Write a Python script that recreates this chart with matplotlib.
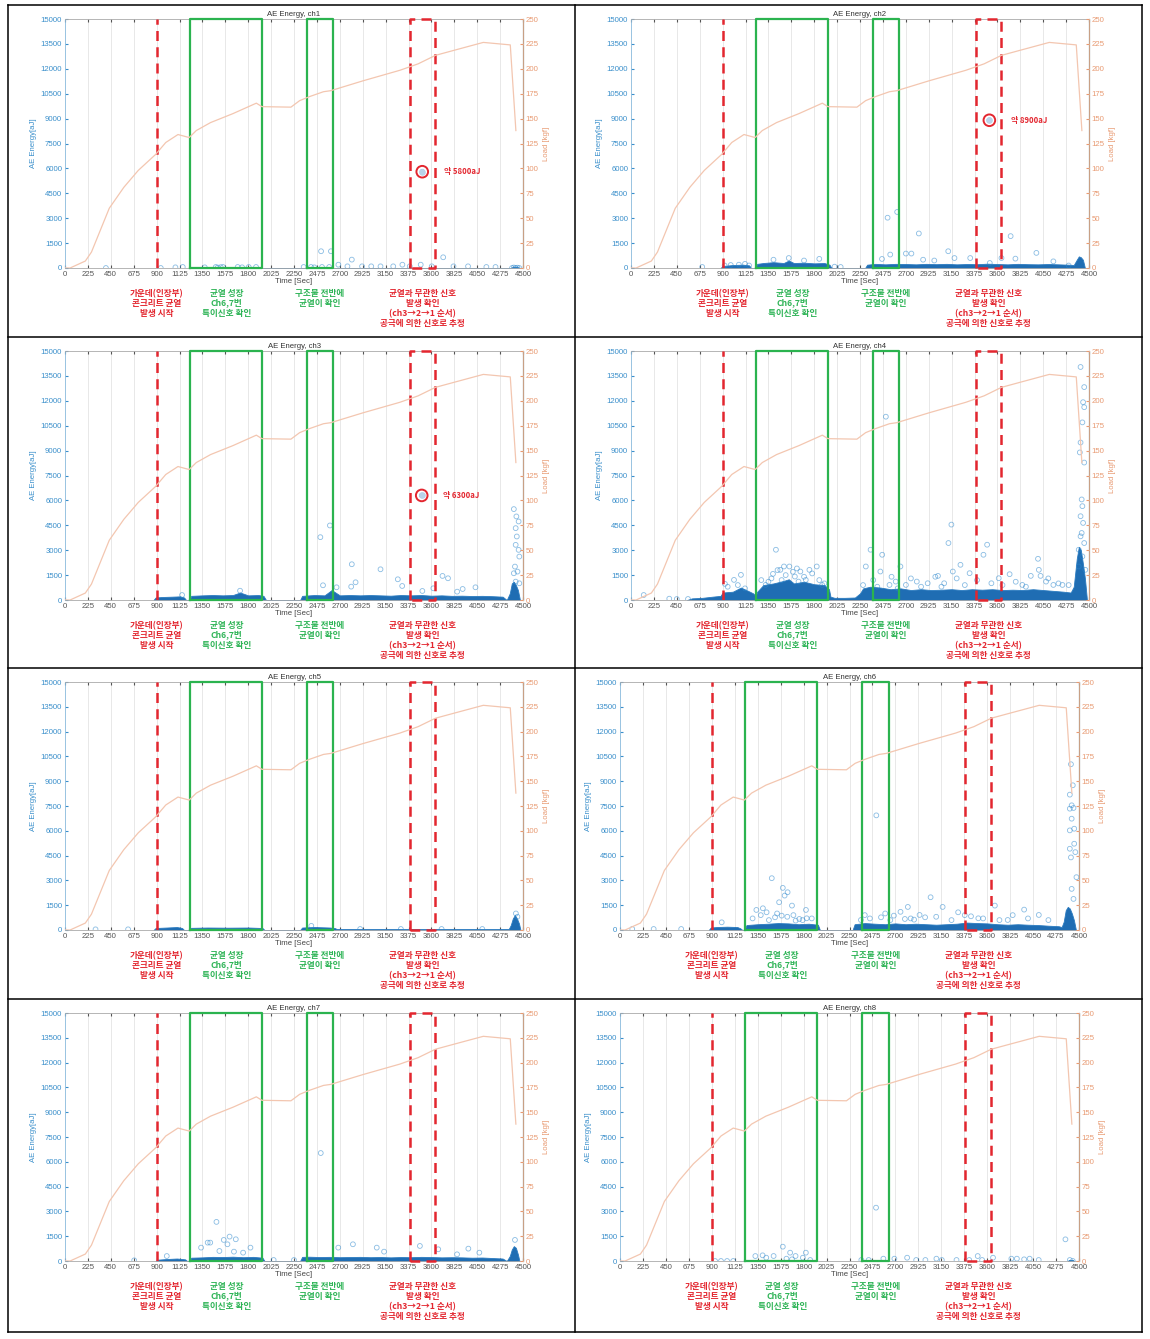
import numpy as np
import matplotlib.pyplot as plt
from matplotlib.lines import Line2D

plt.rcParams['font.family'] = ['Liberation Sans', 'Noto Sans CJK KR', 'DejaVu Sans']

W, H = 1150, 1339

# load history (same test for all channels)
load_t = [0, 50, 200, 260, 435, 578, 720, 890, 990, 1110, 1220, 1290, 1430, 1650, 1880, 1935, 2220, 2305, 2400, 2540, 2610, 2930, 3290, 3470, 3640, 3820, 4110, 4375, 4430]
load_v = [0, 0, 7, 16, 60, 81, 98, 114, 126, 134, 131, 138, 146, 155, 165.5, 162, 161.5, 168, 172, 177, 178, 188, 198.5, 205, 213.5, 218.5, 226.5, 224, 138]

# event marks
crack_t = 900
green_box = [(1230, 1935), (2375, 2635)]
red_box = (3385, 3635)

# AE hits (time [s], energy [aJ])
ch1_t = [402, 941, 1085, 1157, 1373, 1481, 1500, 1530, 1553, 1697, 1740, 1805, 1877, 2345, 2417, 2450, 2516, 2525, 2596, 2613, 2686, 2775, 2818, 2919, 3009, 3100, 3225, 3315, 3387, 3495, 3510, 3603, 3716, 3817, 3960, 4140, 4230, 4392, 4410, 4428, 4445, 4464]
ch1_e = [0, 0, 40, 60, 40, 60, 30, 50, 60, 60, 40, 60, 60, 60, 60, 40, 1010, 60, 60, 1010, 200, 100, 505, 100, 100, 100, 100, 200, 100, 200, 5800, 100, 646, 100, 100, 60, 60, 0, 30, 0, 20, 0]
ch1_band_t = [1460, 1480, 1520, 1560, 1580, 1680, 1700, 1760, 1810, 1830, 2370, 2390, 2500, 2620, 2640, 4380, 4400, 4440, 4470]
ch1_band_e = [0, 50, 70, 50, 0, 0, 50, 40, 50, 0, 0, 50, 40, 60, 0, 0, 70, 70, 0]

ch2_t = [700, 920, 980, 1060, 1120, 1160, 1400, 1550, 1700, 1850, 2000, 2060, 2466, 2521, 2547, 2615, 2701, 2755, 2828, 2870, 2980, 3117, 3178, 3333, 3521, 3525, 3640, 3730, 3777, 3983, 4150, 4300]
ch2_e = [60, 150, 180, 200, 250, 150, 500, 600, 450, 550, 80, 60, 545, 3030, 810, 3375, 870, 870, 2080, 500, 450, 1010, 600, 600, 8900, 300, 600, 1920, 565, 910, 400, 150]
ch2_band_t = [880, 900, 1000, 1100, 1160, 1180, 1220, 1240, 1300, 1400, 1500, 1550, 1600, 1700, 1800, 1900, 1950, 1970, 2300, 2320, 2400, 2500, 2600, 2700, 2800, 2900, 3000, 3100, 3200, 3300, 3400, 3500, 3600, 3700, 3800, 3900, 4000, 4100, 4200, 4300, 4350, 4380, 4400, 4420, 4440, 4460]
ch2_band_e = [0, 120, 180, 200, 160, 0, 0, 250, 300, 350, 300, 450, 300, 320, 280, 300, 200, 0, 0, 200, 250, 220, 250, 240, 220, 250, 230, 250, 220, 240, 230, 260, 240, 220, 250, 230, 220, 240, 220, 200, 180, 500, 700, 650, 500, 0]

ch3_t = [1150, 1720, 2509, 2535, 2603, 2668, 2812, 2818, 2855, 3100, 3270, 3313, 3505, 3511, 3619, 3709, 3763, 3853, 3907, 4033, 4410, 4435, 4457, 4428, 4439, 4428, 4457, 4464, 4421, 4446, 4410, 4428, 4464]
ch3_e = [300, 560, 3785, 886, 4490, 765, 805, 2154, 1067, 1850, 1248, 845, 6300, 544, 705, 1450, 1309, 503, 664, 765, 5476, 5034, 4731, 4329, 3826, 3322, 3020, 2617, 2013, 1711, 1611, 1107, 1007]
ch3_band_t = [870, 890, 950, 1050, 1130, 1170, 1190, 1225, 1240, 1350, 1450, 1550, 1650, 1720, 1800, 1900, 1950, 1975, 2310, 2330, 2450, 2550, 2620, 2700, 2800, 2900, 3000, 3100, 3200, 3300, 3400, 3500, 3600, 3700, 3800, 3900, 4000, 4100, 4200, 4300, 4340, 4370, 4390, 4410, 4430, 4450, 4470]
ch3_band_e = [0, 150, 180, 200, 220, 150, 0, 0, 250, 280, 300, 280, 300, 450, 280, 300, 250, 0, 0, 250, 300, 280, 600, 280, 300, 280, 300, 280, 260, 300, 280, 300, 260, 280, 250, 260, 240, 250, 230, 200, 0, 400, 1000, 1100, 900, 600, 0]

ch4_t = [125, 376, 450, 560, 923, 950, 1012, 1050, 1080, 1120, 1280, 1323, 1350, 1380, 1395, 1424, 1440, 1467, 1480, 1503, 1520, 1556, 1590, 1610, 1630, 1646, 1664, 1700, 1717, 1753, 1780, 1825, 1850, 1878, 1900,
         2280, 2307, 2354, 2380, 2420, 2450, 2468, 2504, 2540, 2560, 2601, 2620, 2647, 2701, 2750, 2808, 2850, 2915, 2990, 3016, 3050, 3077, 3119, 3148, 3162, 3200, 3237, 3280, 3327, 3400, 3463, 3499, 3541, 3613, 3650, 3720, 3780, 3845, 3880, 3928, 3999, 4007, 4024, 4078, 4100, 4150, 4200, 4239, 4300,
         4417, 4453, 4442, 4453, 4435, 4417, 4453, 4410, 4428, 4435, 4417, 4442, 4428, 4417, 4453, 4399, 4435, 4464, 4399]
ch4_e = [300, 80, 60, 60, 970, 800, 1211, 900, 1514, 700, 1200, 908, 1100, 1300, 1574, 3028, 1800, 1817, 1200, 2019, 1500, 2019, 1700, 1413, 1900, 1110, 1716, 1400, 1211, 1817, 1600, 2019, 1200, 908, 1000,
         900, 2019, 3028, 1200, 800, 1716, 2725, 11043, 908, 1400, 1110, 700, 2019, 908, 1300, 1110, 800, 1009, 1400, 1453, 800, 1009, 3432, 4542, 1716, 1300, 2120, 900, 1615, 1200, 2725, 3331, 1009, 1312, 900, 1554, 1100, 908, 800, 1453, 2482, 1817, 1453, 1110, 1300, 908, 1000, 908, 900,
         14037, 12826, 11917, 11615, 10700, 9488, 8280, 8890, 6057, 5653, 5047, 4643, 4037, 3835, 3432, 3028, 2624, 1817, 2019]
ch4_band_t = [550, 600, 700, 800, 880, 900, 1000, 1080, 1150, 1200, 1225, 1240, 1300, 1400, 1500, 1550, 1600, 1700, 1800, 1900, 1945, 1960, 2000, 2100, 2200, 2250, 2280, 2350, 2450, 2550, 2650, 2750, 2850, 2950, 3050, 3150, 3250, 3350, 3450, 3550, 3650, 3750, 3850, 3950, 4050, 4150, 4250, 4320, 4350, 4380, 4400, 4420, 4440, 4460, 4480]
ch4_band_e = [0, 100, 130, 200, 250, 450, 500, 750, 550, 400, 250, 500, 900, 1000, 1150, 1250, 1000, 1100, 950, 900, 650, 200, 130, 130, 150, 400, 700, 800, 750, 650, 700, 600, 650, 600, 620, 650, 600, 650, 620, 650, 600, 620, 600, 650, 600, 550, 500, 450, 800, 2500, 3200, 3000, 2200, 1300, 0]

ch5_t = [300, 620, 2420, 2900, 3300, 3700, 4100, 4430, 4445]
ch5_e = [40, 40, 250, 60, 60, 60, 60, 1000, 800]
ch5_band_t = [870, 890, 1000, 1100, 1150, 1170, 1220, 1240, 1400, 1600, 1800, 1940, 1960, 2310, 2330, 2450, 2600, 2650, 2670, 4360, 4380, 4400, 4420, 4440, 4460, 4475]
ch5_band_e = [0, 120, 150, 180, 120, 0, 0, 130, 150, 140, 150, 120, 0, 0, 150, 180, 150, 120, 60, 60, 300, 700, 900, 700, 400, 0]

ch6_t = [120, 330, 600, 997, 1300, 1337, 1380, 1401, 1437, 1460, 1488, 1520, 1540, 1560, 1585, 1596, 1614, 1640, 1643, 1686, 1700, 1722, 1758, 1790, 1823, 1830, 1880,
         2362, 2400, 2450, 2513, 2559, 2600, 2650, 2685, 2750, 2793, 2822, 2850, 2883, 2937, 2991, 3045, 3100, 3163, 3250, 3315, 3380, 3441, 3513, 3560, 3675, 3720, 3801, 3850, 3962, 4000, 4106, 4200,
         4421, 4439, 4410, 4428, 4410, 4446, 4428, 4453, 4410, 4453, 4410, 4464, 4421, 4475, 4428, 4446]
ch6_e = [60, 60, 60, 465, 700, 1213, 900, 1314, 1071, 600, 3134, 768, 1000, 1678, 869, 2547, 2082, 800, 2284, 1476, 900, 566, 667, 600, 1213, 708, 700,
         606, 900, 700, 6934, 768, 1000, 600, 869, 1100, 667, 1395, 700, 627, 910, 768, 1981, 800, 1395, 600, 1071, 900, 829, 708, 700, 1476, 600, 606, 900, 1233, 700, 910, 600,
         10026, 8753, 8187, 7541, 7339, 7380, 6733, 6127, 6026, 5218, 4915, 4710, 4390, 3194, 2487, 1880]
ch6_band_t = [870, 890, 950, 1050, 1150, 1180, 1200, 1220, 1240, 1350, 1450, 1550, 1650, 1750, 1850, 1940, 1960, 2280, 2300, 2400, 2500, 2600, 2700, 2800, 2900, 3000, 3100, 3200, 3300, 3400, 3500, 3600, 3700, 3800, 3900, 4000, 4100, 4200, 4300, 4330, 4350, 4370, 4390, 4410, 4430, 4450, 4470]
ch6_band_e = [0, 150, 180, 200, 180, 100, 0, 0, 300, 350, 380, 420, 400, 350, 380, 320, 0, 0, 350, 420, 380, 350, 400, 350, 380, 350, 320, 350, 380, 450, 420, 400, 350, 320, 350, 320, 300, 260, 230, 180, 500, 1200, 1400, 1300, 1000, 600, 0]

ch7_t = [680, 1000, 1337, 1402, 1427, 1488, 1517, 1560, 1596, 1617, 1660, 1678, 1750, 1822, 2050, 2250,
         2513, 2685, 2829, 3063, 3135, 3487, 3667, 3852, 3963, 4071, 4421]
ch7_e = [40, 300, 809, 1112, 1112, 2365, 606, 1274, 1011, 1476, 566, 1314, 505, 809, 60, 60,
         6530, 809, 1011, 809, 566, 910, 708, 404, 748, 505, 1274]
ch7_band_t = [890, 910, 1000, 1100, 1180, 1200, 1225, 1240, 1350, 1450, 1550, 1650, 1750, 1850, 1940, 1960, 2310, 2330, 2400, 2500, 2600, 2700, 2800, 2900, 3000, 3100, 3200, 3300, 3400, 3500, 3600, 3700, 3800, 3900, 4000, 4100, 4200, 4300, 4340, 4370, 4390, 4410, 4430, 4450, 4465]
ch7_band_e = [0, 80, 120, 150, 100, 0, 0, 200, 220, 250, 240, 260, 230, 250, 200, 0, 0, 250, 260, 240, 250, 230, 240, 250, 230, 240, 220, 240, 230, 250, 240, 220, 230, 220, 200, 210, 180, 150, 0, 300, 700, 900, 800, 400, 0]

ch8_t = [932, 990, 1050, 1110, 1327, 1398, 1434, 1506, 1596, 1632, 1668, 1686, 1721, 1793, 1822, 1865,
         2366, 2438, 2510, 2582, 2690, 2815, 2904, 2994, 3102, 3155, 3299, 3424, 3507, 3550, 3657, 3837, 3891, 3962, 4016, 4105, 4367, 4410, 4439]
ch8_e = [0, 0, 0, 0, 300, 343, 200, 302, 867, 141, 504, 100, 302, 200, 504, 60,
         60, 60, 3226, 141, 141, 200, 60, 60, 141, 60, 60, 60, 300, 60, 200, 141, 141, 100, 141, 60, 1310, 60, 0]
ch8_band_t = [4390, 4400, 4440, 4450]
ch8_band_e = [0, 60, 60, 0]

callouts = {1: (3510, 5800, '약 5800aJ'), 2: (3521, 8900, '약 8900aJ'), 3: (3505, 6300, '약 6300aJ')}

ann = [(900, '가운데(인장부)\n콘크리트 균열\n발생 시작', '#e3262f'),
       (1590, '균열 성장\nCh6,7번\n특이신호 확인', '#2fb457'),
       (2505, '구조물 전반에\n균열이 확인', '#2fb457'),
       (3515, '균열과 무관한 신호\n발생 확인\n(ch3→2→1 순서)\n공극에 의한 신호로 추정', '#e3262f')]

panels = [
    (1, ch1_t, ch1_e, ch1_band_t, ch1_band_e, (65, 19, 523, 268)),
    (2, ch2_t, ch2_e, ch2_band_t, ch2_band_e, (631, 19, 1089, 268)),
    (3, ch3_t, ch3_e, ch3_band_t, ch3_band_e, (65, 351, 523, 600)),
    (4, ch4_t, ch4_e, ch4_band_t, ch4_band_e, (631, 351, 1089, 600)),
    (5, ch5_t, ch5_e, ch5_band_t, ch5_band_e, (65, 682, 523, 930)),
    (6, ch6_t, ch6_e, ch6_band_t, ch6_band_e, (620, 682, 1079, 930)),
    (7, ch7_t, ch7_e, ch7_band_t, ch7_band_e, (65, 1013, 523, 1261)),
    (8, ch8_t, ch8_e, ch8_band_t, ch8_band_e, (620, 1013, 1079, 1261)),
]

blue = '#3a8fcb'
orange = '#e89a72'
fs = 5.6

fig = plt.figure(figsize=(W / 100, H / 100), dpi=100)

for ch, t, e, bt, be, (x0, y0, x1, y1) in panels:
    ax = fig.add_axes([x0 / W, 1 - y1 / H, (x1 - x0) / W, (y1 - y0) / H])
    ax.fill_between(bt, 0, be, color='#1f6db3', lw=0.6, ec='#2a7bc0', zorder=2)
    ax.scatter(t, e, s=12, facecolors='none', edgecolors='#2a86cc', linewidths=0.6, alpha=0.55, zorder=3)
    ax.set_xlim(0, 4500)
    ax.set_ylim(0, 15000)
    ax.set_xticks(np.arange(0, 4501, 225))
    ax.set_yticks(np.arange(0, 15001, 1500))
    ax.grid(axis='x', color='#e4e4e4', lw=0.6)
    ax.set_axisbelow(True)
    ax.tick_params(axis='x', direction='in', length=2.5, labelsize=fs, pad=2, colors='#555555', top=True)
    ax.tick_params(axis='y', direction='in', length=2.5, labelsize=fs, pad=2, colors=blue)
    ax.set_xlabel('Time [Sec]', fontsize=fs, labelpad=0.5, color='#444444')
    ax.set_ylabel('AE Energy[aJ]', fontsize=fs, labelpad=3, color=blue)
    ax.set_title('AE Energy, ch%d' % ch, fontsize=fs, pad=2, color='#333333')
    for s in ['top', 'bottom']:
        ax.spines[s].set_color('#aaaaaa')
        ax.spines[s].set_linewidth(0.6)
    ax.spines['left'].set_color('#8cbde0')
    ax.spines['left'].set_linewidth(0.6)

    ax.plot([crack_t, crack_t], [0, 15000], color='#e3262f', lw=1.8, ls=(0, (4, 2.5)), zorder=4)
    for a, b in green_box:
        ax.plot([a, a, b, b, a], [0, 15000, 15000, 0, 0], color='#2bb34f', lw=1.6, zorder=4, clip_on=False)
    a, b = red_box
    ax.plot([a, a, b, b, a], [0, 15000, 15000, 0, 0], color='#e3262f', lw=1.8, ls=(0, (4, 2.5)), zorder=4, clip_on=False)

    if ch in callouts:
        cx, cy, txt = callouts[ch]
        ax.scatter([cx], [cy], s=14, color='#b9d3ea', zorder=5)
        ax.scatter([cx], [cy], s=70, facecolors='none', edgecolors='#e3262f', linewidths=1.4, zorder=6)
        ax.text(cx + 210, cy, txt, fontsize=fs, color='#e3262f', fontweight='bold', va='center',
                family=['Noto Sans CJK KR', 'DejaVu Sans'])

    for tx, txt, col in ann:
        ax.text(tx, -0.085, txt, transform=ax.get_xaxis_transform(), ha='center', va='top',
                fontsize=6.2, color=col, fontweight='bold', linespacing=1.12,
                family=['Noto Sans CJK KR', 'DejaVu Sans'])

    ax2 = ax.twinx()
    ax2.plot(load_t, load_v, color='#f3c6b0', lw=0.9)
    ax2.set_ylim(0, 250)
    ax2.set_yticks(np.arange(0, 251, 25))
    ax2.tick_params(axis='y', direction='in', length=2.5, labelsize=fs, pad=2, colors=orange)
    ax2.set_ylabel('Load [kgf]', fontsize=fs, labelpad=3, color=orange)
    ax2.spines['right'].set_color('#f0c0a0')
    ax2.spines['right'].set_linewidth(0.6)
    for s in ['top', 'bottom', 'left']:
        ax2.spines[s].set_visible(False)

# table lines
for xs, ys in [([8, 1142], [5, 5]), ([8, 1142], [337, 337]), ([8, 1142], [668, 668]),
               ([8, 1142], [999, 999]), ([8, 1142], [1332, 1332]),
               ([8, 8], [5, 1332]), ([575, 575], [5, 1332]), ([1142, 1142], [5, 1332])]:
    fig.add_artist(Line2D([v / W for v in xs], [1 - v / H for v in ys], color='black', lw=1.1))

fig.savefig('out.png', dpi=100, facecolor='white')
